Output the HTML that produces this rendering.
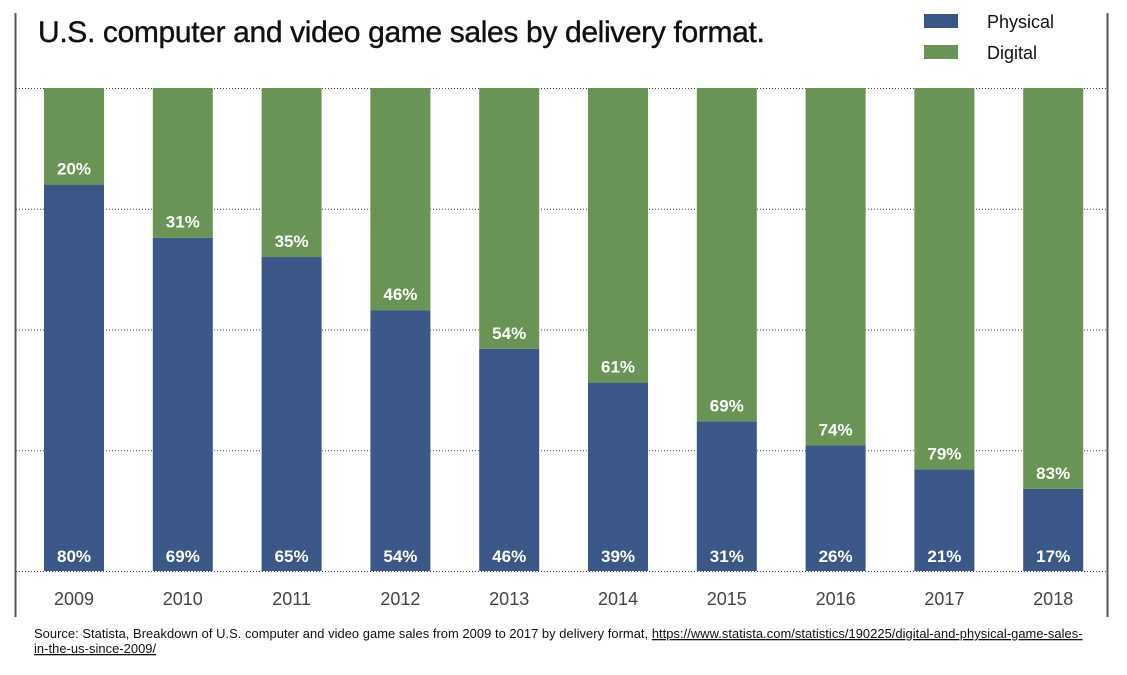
<!DOCTYPE html>
<html><head><meta charset="utf-8"><style>
body{margin:0;background:#fff;font-family:"Liberation Sans",Arial,sans-serif;}
svg text{font-family:"Liberation Sans",Arial,sans-serif;}
</style></head><body>
<svg id="chart" width="1127" height="670" xmlns="http://www.w3.org/2000/svg">
<line x1="15.5" y1="13" x2="15.5" y2="617" stroke="#555" stroke-width="2"/>
<line x1="1107.5" y1="13" x2="1107.5" y2="617" stroke="#555" stroke-width="2"/>
<text x="38" y="42" font-size="30" fill="#111" letter-spacing="-0.35" stroke="#111" stroke-width="0.4">U.S. computer and video game sales by delivery format.</text>
<rect x="924" y="14" width="34" height="14" fill="#3a5787"/>
<text x="987" y="28" font-size="18" fill="#111">Physical</text>
<rect x="924" y="45" width="34" height="14" fill="#6a9455"/>
<text x="987" y="59" font-size="18" fill="#111">Digital</text>
<g id="grid"></g><g id="bars"></g>
<text x="34" y="638" font-size="12.9" fill="#111" letter-spacing="0.05">Source: Statista, Breakdown of U.S. computer and video game sales from 2009 to 2017 by delivery format, <tspan text-decoration="underline">https://www.statista.com/statistics/190225/digital-and-physical-game-sales-</tspan></text>
<text x="34" y="653" font-size="12.9" fill="#111" letter-spacing="0.05" text-decoration="underline">in-the-us-since-2009/</text>
</svg>
<script>
const years=["2009","2010","2011","2012","2013","2014","2015","2016","2017","2018"];
const physical=[80,69,65,54,46,39,31,26,21,17];
const digital=[20,31,35,46,54,61,69,74,79,83];
const gridTicks=[0,25,50,75,100];
const NS="http://www.w3.org/2000/svg";
const top0=88,bot=571,x0=44,step=108.8,bw=60;
function y(v){return bot-(v/100)*(bot-top0);}
function xb(i){return x0+i*step;}
function mk(tag,attrs,parent){const e=document.createElementNS(NS,tag);for(const k in attrs)e.setAttribute(k,attrs[k]);parent.appendChild(e);return e;}
const grid=document.getElementById('grid'),bars=document.getElementById('bars');
gridTicks.forEach(t=>{const l=mk('line',{x1:16,x2:1107,y1:y(t)+0.5,y2:y(t)+0.5,stroke:'#444','stroke-width':1,'stroke-dasharray':'1,2'},grid);

});
years.forEach((yr,i)=>{
const x=xb(i),cx=x+bw/2,total=physical[i]+digital[i];
const p=mk('rect',{x:x,y:y(physical[i]),width:bw,height:bot-y(physical[i]),fill:'#3a5787'},bars);


const d=mk('rect',{x:x,y:y(total),width:bw,height:y(physical[i])-y(total),fill:'#6a9455'},bars);


const pl=mk('text',{x:cx,y:bot-9,'text-anchor':'middle','font-size':17,'font-weight':'bold',fill:'#fff'},bars);pl.textContent=physical[i]+'%';


const dl=mk('text',{x:cx,y:y(physical[i])-10,'text-anchor':'middle','font-size':17,'font-weight':'bold',fill:'#fff'},bars);dl.textContent=digital[i]+'%';


const xl=mk('text',{x:cx,y:605,'text-anchor':'middle','font-size':18,fill:'#444'},bars);xl.textContent=yr;


});
</script>
</body></html>
